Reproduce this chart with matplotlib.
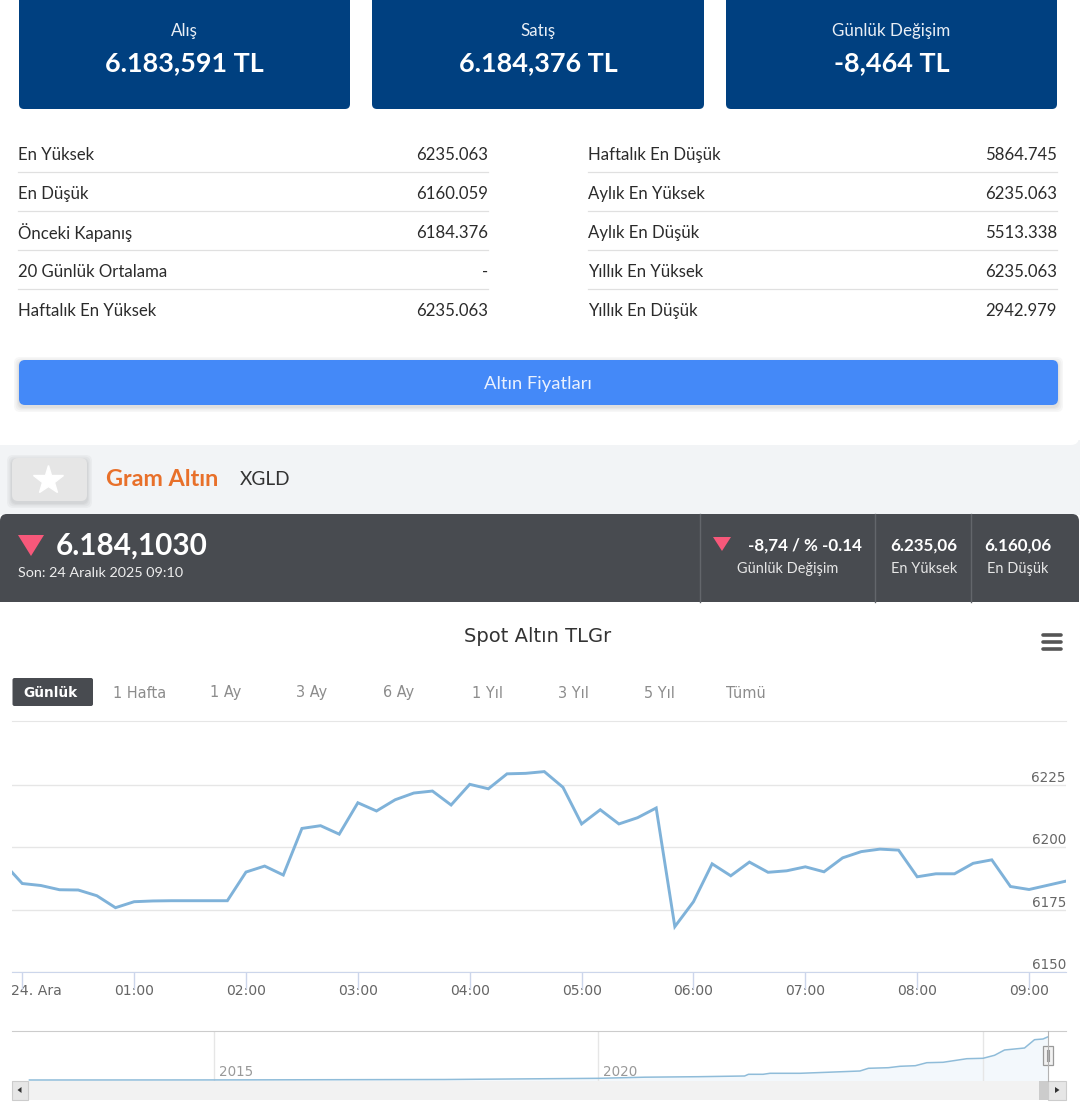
import numpy as np
import matplotlib
matplotlib.use("Agg")
import matplotlib.pyplot as plt
from matplotlib.patches import FancyBboxPatch, Rectangle, Polygon

W, H = 1080, 1116
UI_FONT = "Lato"
CHART_FONT = "DejaVu Sans"

# top cards
card_titles = ["Alış", "Satış", "Günlük Değişim"]
card_values = ["6.183,591 TL", "6.184,376 TL", "-8,464 TL"]

# stats table
left_labels = ["En Yüksek", "En Düşük", "Önceki Kapanış", "20 Günlük Ortalama", "Haftalık En Yüksek"]
left_values = ["6235.063", "6160.059", "6184.376", "-", "6235.063"]
right_labels = ["Haftalık En Düşük", "Aylık En Yüksek", "Aylık En Düşük", "Yıllık En Yüksek", "Yıllık En Düşük"]
right_values = ["5864.745", "6235.063", "5513.338", "6235.063", "2942.979"]

# range buttons
range_labels = ["1 Hafta", "1 Ay", "3 Ay", "6 Ay", "1 Yıl", "3 Yıl", "5 Yıl", "Tümü"]

# intraday series, minutes after midnight (first point is before midnight)
minutes = [-10, 0, 10, 20, 30, 40, 50, 60, 70, 80, 90, 100, 110,
           120, 130, 140, 150, 160, 170, 180, 190, 200, 210, 220, 230,
           240, 250, 260, 270, 280, 290, 300, 310, 320, 330, 340, 350,
           360, 370, 380, 390, 400, 410, 420, 430, 440, 450, 460, 470,
           480, 490, 500, 510, 520, 530, 540, 550, 560]
prices = [6193.7, 6185.5, 6184.7, 6183.0, 6182.9, 6180.6, 6175.8, 6178.2, 6178.5, 6178.6, 6178.6, 6178.6, 6178.6,
          6190.1, 6192.5, 6188.9, 6207.6, 6208.7, 6205.3, 6217.9, 6214.6, 6219.1, 6221.8, 6222.6, 6217.0,
          6225.3, 6223.5, 6229.5, 6229.7, 6230.4, 6224.1, 6209.4, 6215.1, 6209.4, 6211.9, 6215.8, 6168.2,
          6178.2, 6193.4, 6188.6, 6194.1, 6190.0, 6190.6, 6192.2, 6190.2, 6195.8, 6198.3, 6199.3, 6198.9,
          6188.2, 6189.4, 6189.4, 6193.6, 6195.0, 6184.3, 6183.1, 6184.8, 6186.5]
hour_ticks = [0, 60, 120, 180, 240, 300, 360, 420, 480, 540]
hour_labels = ["24. Ara", "01:00", "02:00", "03:00", "04:00", "05:00", "06:00", "07:00", "08:00", "09:00"]
price_ticks = [6150, 6175, 6200, 6225, 6250]

# navigator series, long term
nav_years = [2012.6, 2015.0, 2018.0, 2020.0, 2020.6, 2021.3, 2021.9, 2021.95, 2022.14, 2022.23, 2022.62, 2022.97,
             2023.4, 2023.51, 2023.77, 2023.92, 2024.12, 2024.27, 2024.48, 2024.79, 2025.0, 2025.15, 2025.28,
             2025.54, 2025.67, 2025.78, 2025.84]
nav_prices = [100, 110, 170, 340, 500, 571, 671, 913, 913, 1056, 1056, 1199,
              1384, 1770, 1855, 2055, 2141, 2569, 2626, 3139, 3197, 3625, 4381,
              4666, 5851, 5951, 6236]
nav_ticks = [2015, 2020, 2025]


def px(size):
    # css pixels to points
    return size * 0.72


def box(ax, x0, y0, x1, y1, color, r=3, **kw):
    p = FancyBboxPatch((x0 + r, y0 + r), x1 - x0 - 2 * r, y1 - y0 - 2 * r,
                       boxstyle="round,pad=%d,rounding_size=%d" % (r, r),
                       fc=color, ec="none", **kw)
    ax.add_patch(p)
    return p


def shadow(ax, x0, y0, x1, y1, r=6):
    # soft drop shadow from a few stacked see-through boxes
    for grow in [5, 3.5, 2, 1]:
        box(ax, x0 - grow, y0 + 2 - grow, x1 + grow, y1 + 2 + grow, "#000000", r=r, alpha=0.03)


def axes_px(fig, x0, y0, x1, y1):
    # axes from pixel box, y measured from the top
    return fig.add_axes([x0 / W, 1 - y1 / H, (x1 - x0) / W, (y1 - y0) / H])


fig = plt.figure(figsize=(W / 100, H / 100), dpi=100, facecolor="white")

# page layer in pixel coordinates
ui = fig.add_axes([0, 0, 1, 1], zorder=0)
ui.set_xlim(0, W)
ui.set_ylim(H, 0)
ui.axis("off")


def label(x, y, s, size, color="#333333", ha="left", weight="normal", family=UI_FONT):
    # va=center sits a bit high in both fonts
    dy = 1.6 if family == UI_FONT else 1.0
    ui.text(x, y + dy, s, fontsize=px(size), color=color, ha=ha, va="center", fontweight=weight, family=family)


# page background strip and white panel
ui.add_patch(Rectangle((0, 0), W, H, fc="white", ec="none"))
ui.add_patch(Rectangle((0, 440), W, 75, fc="#f2f4f6", ec="none"))
box(ui, -10, -20, 1079, 445, "white", r=8)

# cards
for x0, x1, title, value in zip([19, 372, 726], [350, 704, 1057], card_titles, card_values):
    box(ui, x0, -10, x1, 109, "#004080", r=5)
    mid = (x0 + x1) / 2
    label(mid, 29, title, 17, "#e8eef5", ha="center")
    label(mid, 62, value, 27, "white", ha="center", weight="bold")

# stats rows
row_y = [153, 192, 231, 270, 309]
for i, y in enumerate(row_y):
    label(18, y, left_labels[i], 16.7, "#2b2b2b")
    label(488, y, left_values[i], 16.7, "#2b2b2b", ha="right")
    label(588, y, right_labels[i], 16.7, "#2b2b2b")
    label(1057, y, right_values[i], 16.7, "#2b2b2b", ha="right")
    if i < 4:
        ui.plot([18, 488], [y + 19, y + 19], color="#e0e0e0", lw=0.9)
        ui.plot([588, 1057], [y + 19, y + 19], color="#e0e0e0", lw=0.9)

# blue button with soft shadow
shadow(ui, 19, 360, 1058, 405)
box(ui, 19, 360, 1058, 405, "#4489f8", r=6)
label(538, 382, "Altın Fiyatları", 18.4, "#eaf1fe", ha="center")

# favourite button and title
shadow(ui, 12, 458, 87, 501)
box(ui, 12, 458, 87, 501, "#e6e6e6", r=6)
ui.plot([48], [480], marker="*", ms=22, color="white", mec="white")
label(106, 478, "Gram Altın", 23.4, "#e8702a", weight="bold")
label(240, 478, "XGLD", 19, "#333333")

# dark price bar
box(ui, 0, 514, 1079, 602, "#484b50", r=7)
ui.add_patch(Rectangle((0, 560), 1079, 42, fc="#484b50", ec="none"))
for x in [700, 875, 971]:
    ui.plot([x, x], [514, 602], color="#63666b", lw=1)
ui.add_patch(Polygon([[18, 535], [44, 535], [31, 556]], fc="#f7587a", ec="none"))
label(56, 544, "6.184,1030", 29.8, "white", weight="bold")
label(18, 571, "Son: 24 Aralık 2025 09:10", 14.4, "#eeeeee")
ui.add_patch(Polygon([[713, 537], [731, 537], [722, 551]], fc="#f7587a", ec="none"))
label(805, 544, "-8,74 / % -0.14", 17, "white", ha="center", weight="bold")
label(788, 567, "Günlük Değişim", 14.5, "#e6e6e6", ha="center")
label(924, 544, "6.235,06", 17, "white", ha="center", weight="bold")
label(924, 567, "En Yüksek", 14.5, "#e6e6e6", ha="center")
label(1018, 544, "6.160,06", 17, "white", ha="center", weight="bold")
label(1018, 567, "En Düşük", 14.5, "#e6e6e6", ha="center")

# chart title and menu icon
label(538, 635, "Spot Altın TLGr", 19.5, "#333333", ha="center", family=CHART_FONT)
for y in [635, 642, 649]:
    ui.plot([1043, 1061], [y, y], color="#555555", lw=2.6, solid_capstyle="round")

# range selector
box(ui, 12.5, 678, 93, 706, "#484b50", r=2)
label(51, 692, "Günlük", 13.8, "white", ha="center", weight="bold", family=CHART_FONT)
for x, s in zip([140, 226, 312, 399, 487, 573, 659, 746], range_labels):
    label(x, 692, s, 14.5, "#8c8c8c", ha="center", family=CHART_FONT)

# main chart
ax = axes_px(fig, 12, 721, 1066, 972)
ax.patch.set_alpha(0)
ax.plot(minutes, prices, color="#7fb2d9", lw=2.1, solid_joinstyle="miter", zorder=3)
ax.set_xlim(-5.5, 559.8)
ax.set_ylim(6150, 6250.7)
ax.set_yticks(price_ticks[:-1])
ax.set_yticklabels([])
ax.grid(axis="y", color="#e6e6e6", lw=1)
ax.set_xticks(hour_ticks)
ax.set_xticklabels([])
ax.tick_params(axis="x", length=12, width=1, color="#ccd6eb", direction="out")
ax.tick_params(axis="y", length=0)
for side in ["left", "right"]:
    ax.spines[side].set_visible(False)
ax.spines["top"].set_color("#e6e6e6")
ax.spines["bottom"].set_color("#ccd6eb")
for t, s in zip(hour_ticks, hour_labels):
    # labels sit below the axis, first one is pushed right to stay inside
    pos = ax.transData.transform((t, 6150))[0]
    lx = 36.5 if t == 0 else pos
    label(lx, 990, s, 14, "#666666", ha="center", family=CHART_FONT)
for v in price_ticks[:-1]:
    py = H - ax.transData.transform((0, v))[1]
    label(1066, py - 8, str(v), 13.5, "#666666", ha="right", family=CHART_FONT)

# navigator
nav = axes_px(fig, 12, 1031, 1066, 1081)
nav.patch.set_alpha(0)
nav.fill_between(nav_years, nav_prices, -43, color="#f3f8fc", lw=0)
nav.plot(nav_years, nav_prices, color="#8fbcd9", lw=1.1)
nav.set_xlim(2015 - 202 / 76.9, 2015 + 852 / 76.9)
nav.set_ylim(-43, 7092)
nav.set_xticks(nav_ticks)
nav.set_xticklabels([])
nav.set_yticks([])
nav.grid(axis="x", color="#e6e6e6", lw=1)
nav.tick_params(axis="x", length=0)
for side in ["left", "right", "bottom"]:
    nav.spines[side].set_visible(False)
nav.spines["top"].set_color("#cccccc")
for yr in nav_ticks:
    lx = nav.transData.transform((yr, 0))[0] + 5
    label(lx, 1070.5, str(yr), 13.5, "#999999", family=CHART_FONT)

# scrollbar and handle, on top of the navigator
top = fig.add_axes([0, 0, 1, 1], zorder=5)
top.set_xlim(0, W)
top.set_ylim(H, 0)
top.axis("off")
top.add_patch(Rectangle((12, 1081), 1054, 18.5, fc="#f2f2f2", ec="none"))
top.add_patch(Rectangle((12, 1081), 16, 18.5, fc="#e6e6e6", ec="#cccccc", lw=0.8))
top.add_patch(Polygon([[21.5, 1087], [21.5, 1093], [17.5, 1090]], fc="#333333", ec="none"))
top.add_patch(Rectangle((1039, 1081), 9, 18.5, fc="#cccccc", ec="none"))
top.add_patch(Rectangle((1048, 1081), 18, 18.5, fc="#e6e6e6", ec="#cccccc", lw=0.8))
top.add_patch(Polygon([[1055, 1087], [1055, 1093], [1059.5, 1090]], fc="#333333", ec="none"))
top.plot([1047.5, 1047.5], [1031, 1081], color="#b3b3b3", lw=0.8)
top.add_patch(Rectangle((1043, 1046), 10, 19, fc="#f2f2f2", ec="#999999", lw=0.9))
for x in [1046.7, 1049.3]:
    top.plot([x, x], [1050, 1061], color="#999999", lw=0.8)

fig.savefig("out.png", dpi=100)
